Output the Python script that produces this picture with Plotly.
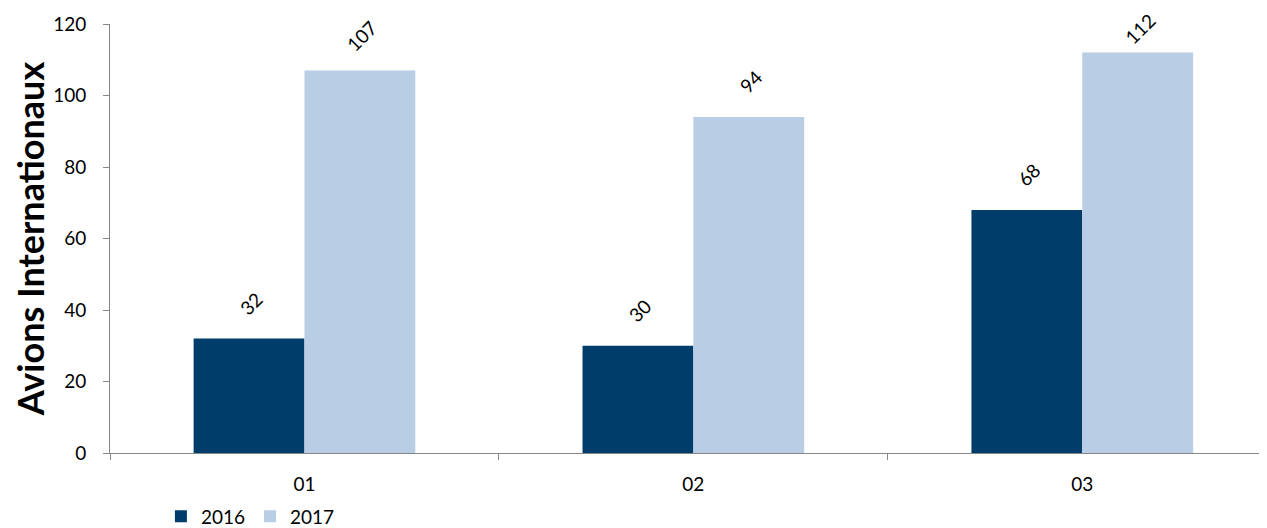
import plotly.graph_objects as go

months = ['01', '02', '03']
avions_2016 = [32, 30, 68]
avions_2017 = [107, 94, 112]

fig = go.Figure()

fig.add_trace(go.Bar(x=months, y=avions_2016, name='2016',
                     marker=dict(color='#003d6b', line=dict(width=0))))
fig.add_trace(go.Bar(x=months, y=avions_2017, name='2017',
                     marker=dict(color='#b9cde5', line=dict(width=0))))

# rotated value labels above each bar (x as category index);
# labels close to the top are pulled down so they stay inside the plot area
px_per_unit = 429 / 120
for vals, shift in [(avions_2016, -55.5), (avions_2017, 55.5)]:
    for i, v in enumerate(vals):
        ys = min(35, (120 - v) * px_per_unit - 4)
        fig.add_annotation(x=i, y=v, xref='x', yref='y', text=str(v), showarrow=False,
                           xshift=shift + 2, yshift=ys, textangle=-45,
                           xanchor='center', yanchor='middle',
                           font=dict(size=19, color='#000000'))

# page body has an 8px margin, so the figure is a bit smaller than the window
fig.update_layout(
    width=1259, height=520,
    margin=dict(l=102, r=0, t=16, b=75, autoexpand=False),
    barmode='group', bargap=0.43, bargroupgap=0,
    plot_bgcolor='white', paper_bgcolor='white',
    font=dict(family='Lato, Open Sans, sans-serif', size=19, color='#000000'),
    showlegend=True,
    legend=dict(orientation='h', x=0.044, y=-0.148, xanchor='left', yanchor='middle',
                font=dict(size=19), traceorder='normal'),
)

fig.update_yaxes(
    range=[0, 120], dtick=20, showgrid=False, zeroline=False, automargin=True,
    showline=True, linecolor='#868686', linewidth=1,
    ticks='outside', ticklen=6, tickcolor='#868686', ticklabelstandoff=13,
    tickfont=dict(size=19),
    title=dict(text='<b>Avions Internationaux</b>', font=dict(size=36), standoff=4)
)
fig.update_xaxes(
    type='category', range=[-0.5, 2.475], showgrid=False, automargin=False,
    showline=True, linecolor='#868686', linewidth=1,
    ticks='outside', tickson='boundaries', ticklen=6, tickcolor='#868686',
    ticklabelstandoff=14, tickfont=dict(size=19)
)

fig.write_html("out.html")
